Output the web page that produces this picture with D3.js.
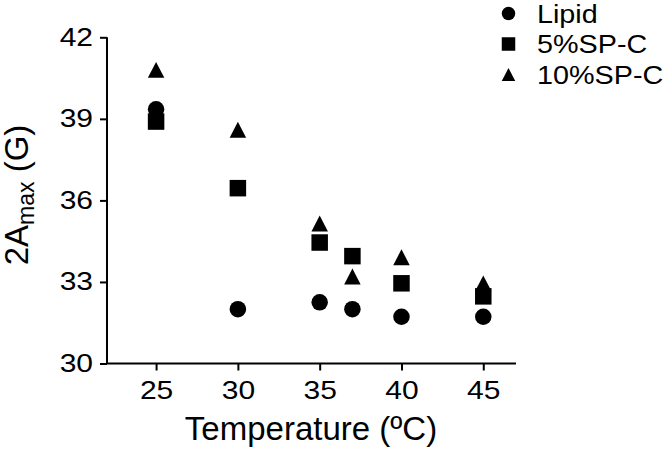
<!DOCTYPE html>
<html>
<head>
<meta charset="utf-8">
<script src="https://cdn.jsdelivr.net/npm/d3@7"></script>
<style>
  html, body { margin: 0; padding: 0; background: #fff; }
  svg { display: block; font-family: "Liberation Sans", Arial, sans-serif; }
</style>
</head>
<body>
<svg id="chart" width="668" height="459"></svg>
<script>
// ---- data ----
const temperatures = [25, 30, 35, 37, 40, 45];
const lipid  = [39.35, 32.0, 32.25, 32.0, 31.72, 31.72];
const sp5    = [38.9, 36.45, 34.45, 33.95, 32.95, 32.47];
const sp10   = [40.8, 38.6, 35.15, 33.2, 33.91, 32.95];
const seriesNames = ["Lipid", "5%SP-C", "10%SP-C"];
const seriesShapes = ["circle", "square", "triangle"];
const xTicks = [25, 30, 35, 40, 45];
const yTicks = [30, 33, 36, 39, 42];

const svg = d3.select("#chart");
const x = d3.scaleLinear().domain([22, 47]).range([107, 516]);
const y = d3.scaleLinear().domain([30, 42]).range([363.5, 37.3]);

function shapePath(shape, s) {
  const h = s / 2;
  if (shape === "circle") {
    const p = d3.path(); p.arc(0, 0, h, 0, 2 * Math.PI); p.closePath(); return p.toString();
  }
  if (shape === "square") {
    return `M${-h},${-h}H${h}V${h}H${-h}Z`;
  }
  const th = s * 0.96 / 2;
  return `M0,${-th}L${h},${th}L${-h},${th}Z`;
}

// axes
const xAxis = d3.axisBottom(x).tickValues(xTicks).tickSize(7).tickPadding(11).tickSizeOuter(0);
const yAxis = d3.axisLeft(y).tickValues(yTicks).tickSize(7).tickPadding(7).tickSizeOuter(0);

const gx = svg.append("g").attr("transform", `translate(0,${y(30)})`).call(xAxis);
const gy = svg.append("g").attr("transform", `translate(${x(22)},0)`).call(yAxis);
[gx, gy].forEach(g => {
  g.select(".domain").attr("stroke", "#000").attr("stroke-width", 2);
  g.selectAll(".tick line").attr("stroke", "#000").attr("stroke-width", 2);
  g.selectAll(".tick text").attr("fill", "#000").style("font-size", "25px")
    .style("font-family", '"Liberation Sans", Arial, sans-serif');
});
gx.select(".domain").attr("d", `M${x(22)},0H${x(47)}`);
gy.select(".domain").attr("d", `M0,${y(30)}V${y(42)}`);
gx.selectAll(".tick text").attr("transform", "scale(1.2,1)");
gy.selectAll(".tick text").attr("x", 0).attr("transform", "translate(-14,0) scale(1.2,1)");

// axis titles
svg.append("text")
  .attr("x", 311).attr("y", 440)
  .attr("text-anchor", "middle")
  .style("font-size", "33px")
  .text("Temperature (ºC)");

const yt = svg.append("text")
  .attr("transform", "translate(28,195) rotate(-90)")
  .attr("text-anchor", "middle")
  .style("font-size", "33px");
yt.append("tspan").text("2A");
yt.append("tspan").attr("dy", 6).style("font-size", "23px").text("max");
yt.append("tspan").attr("dy", -6).text(" (G)");

// points
const allSeries = [lipid, sp5, sp10];
allSeries.forEach((vals, i) => {
  svg.append("g").selectAll("path")
    .data(vals.map((v, j) => ({ t: temperatures[j], v })))
    .join("path")
    .attr("transform", d => `translate(${x(d.t)},${y(d.v)})`)
    .attr("d", shapePath(seriesShapes[i], 16.5))
    .attr("fill", "#000");
});

// legend
const legend = svg.append("g");
seriesNames.forEach((name, i) => {
  const cy = 13.5 + i * 30.5;
  legend.append("path")
    .attr("transform", `translate(508.5,${cy})`)
    .attr("d", shapePath(seriesShapes[i], 13.5))
    .attr("fill", "#000");
  legend.append("text")
    .attr("transform", `translate(537,${cy + 9.3}) scale(1.15,1)`)
    .style("font-size", "25px")
    .text(name);
});
</script>
</body>
</html>
